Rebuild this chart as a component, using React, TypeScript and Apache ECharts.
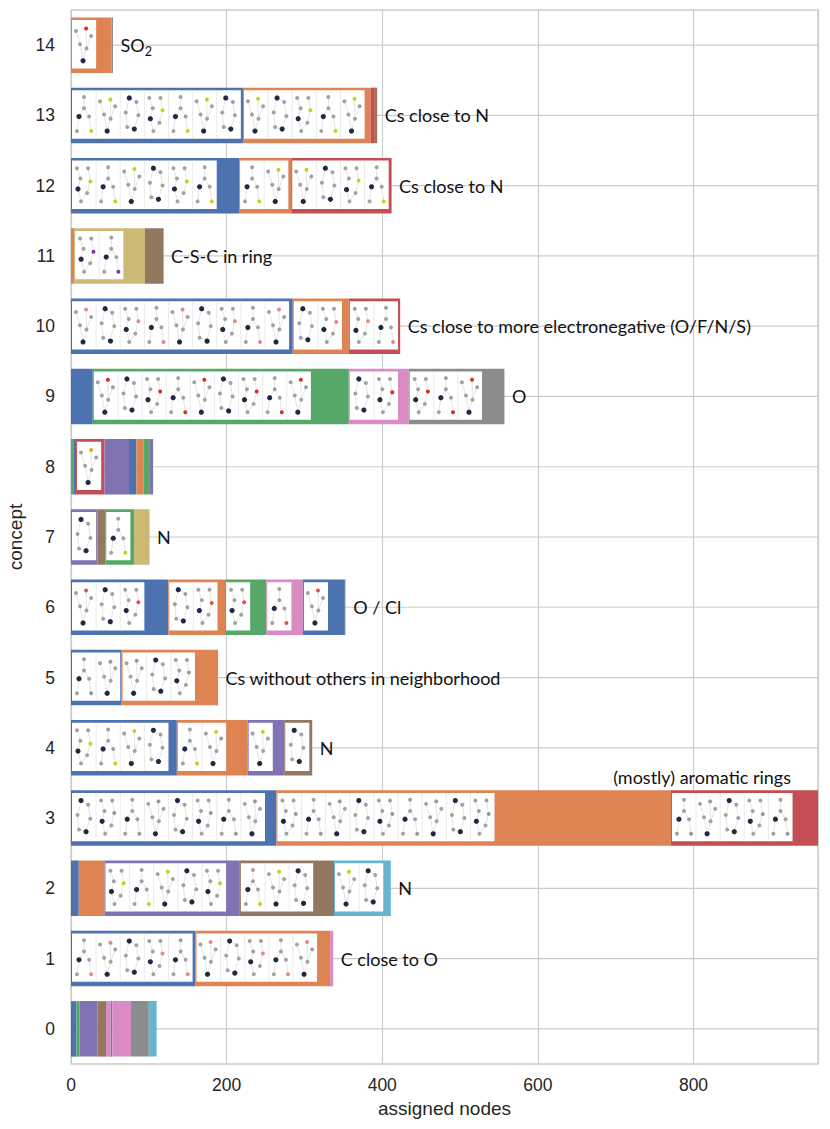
import React, { useEffect, useRef } from "react";
import * as echarts from "echarts";

// ---------- data ----------
const CONCEPTS = ["0", "1", "2", "3", "4", "5", "6", "7", "8", "9", "10", "11", "12", "13", "14"];

// seaborn "deep" palette
const PALETTE = ["#4C72B0", "#DD8452", "#55A868", "#C44E52", "#8172B3", "#937860", "#DA8BC3", "#8C8C8C", "#CCB974", "#64B5CD"];

// palette index of each stacked segment, per concept
const SEG_COLORS: number[][] = [
  [0, 2, 4, 5, 6, 4, 6, 7, 9],
  [0, 1, 6],
  [0, 1, 4, 5, 9],
  [0, 1, 3],
  [0, 1, 4, 5],
  [0, 1],
  [0, 1, 2, 6, 0, 8],
  [4, 5, 2, 8],
  [2, 0, 3, 4, 0, 1, 2, 4],
  [0, 2, 6, 7],
  [0, 1, 3],
  [1, 8, 5],
  [0, 1, 3],
  [0, 1, 3, 5],
  [1, 7],
];

// assigned nodes of each segment, per concept
const SEG_VALUES: number[][] = [
  [7, 4, 23, 11, 6, 2, 24, 23, 10],
  [160, 173, 4],
  [10, 33, 174, 121, 73],
  [264, 507, 189],
  [136, 91, 47, 36],
  [65, 124],
  [125, 73, 53, 47, 54, 1],
  [34, 10, 37, 20],
  [3, 3.5, 36.5, 31.5, 9.5, 9.5, 7, 5],
  [28, 329, 77, 123],
  [285, 72, 66],
  [4, 91, 24],
  [216, 67, 129],
  [221, 164, 5.5, 3],
  [52, 2],
];

// number of example-molecule panels shown inside each segment (0 = none)
const SEG_PANELS: number[][] = [
  [0, 0, 0, 0, 0, 0, 0, 0, 0],
  [5, 5, 0],
  [0, 0, 5, 3, 2],
  [8, 9, 5],
  [4, 2, 1, 1],
  [2, 3],
  [3, 2, 1, 1, 1, 0],
  [1, 0, 1, 0],
  [0, 0, 1, 0, 0, 0, 0, 0],
  [0, 9, 2, 3],
  [9, 2, 2],
  [0, 2, 0],
  [6, 2, 4],
  [7, 5, 0, 0],
  [1, 0],
];

const CONCEPT_LABELS = [
  "",
  "C close to O",
  "N",
  "(mostly) aromatic rings",
  "N",
  "Cs without others in neighborhood",
  "O / Cl",
  "N",
  "",
  "O",
  "Cs close to more electronegative (O/F/N/S)",
  "C-S-C in ring",
  "Cs close to N",
  "Cs close to N",
  "SO{sub|2}",
];
const LABEL_ABOVE = [3];

// element colour highlighted in the example molecules of each concept
const ACCENT = ["#999999", "#e58a86", "#c5d21c", "#999999", "#c5d21c", "#999999", "#e0524e", "#c5d21c", "#f0a020", "#e02a20", "#e58a86", "#8a2fa8", "#c5d21c", "#c5d21c", "#e02a20"];

const X_MAX = 960;
const X_INTERVAL = 200;
const PANEL_UNITS = 31; // width of one molecule panel, in axis units
const BAR_GAP = 0.21;

// decorative molecule glyphs: [x, y, kind] in panel-relative units; kind 0 grey, 1 dark, 2 accent
const GLYPHS: { nodes: number[][]; edges: number[][] }[] = [
  {
    nodes: [[0.15, 0.1, 0], [0.32, 0.35, 0], [0.2, 0.6, 1], [0.35, 0.9, 0], [0.65, 0.7, 0], [0.8, 0.4, 2], [0.7, 0.1, 0]],
    edges: [[0, 1], [1, 2], [2, 3], [3, 4], [4, 5], [5, 6]],
  },
  {
    nodes: [[0.5, 0.08, 0], [0.5, 0.35, 0], [0.25, 0.55, 1], [0.75, 0.55, 0], [0.15, 0.9, 0], [0.85, 0.9, 2]],
    edges: [[0, 1], [1, 2], [1, 3], [2, 4], [3, 5]],
  },
  {
    nodes: [[0.1, 0.18, 0], [0.3, 0.5, 0], [0.45, 0.9, 1], [0.62, 0.6, 0], [0.85, 0.3, 0], [0.6, 0.12, 2]],
    edges: [[0, 1], [1, 2], [2, 3], [3, 4], [3, 5]],
  },
  {
    nodes: [[0.35, 0.1, 1], [0.7, 0.2, 0], [0.8, 0.52, 0], [0.6, 0.85, 1], [0.25, 0.8, 0], [0.18, 0.45, 0]],
    edges: [[0, 1], [1, 2], [2, 3], [3, 4], [4, 5], [5, 0]],
  },
];

// ---------- option ----------
function buildOption() {
  const maxSegs = Math.max(...SEG_VALUES.map((s) => s.length));
  const barSeries: any[] = [];
  for (let k = 0; k < maxSegs; k++) {
    barSeries.push({
      type: "bar",
      stack: "total",
      barCategoryGap: BAR_GAP * 100 + "%",
      silent: true,
      z: 2,
      data: CONCEPTS.map((_, c) =>
        SEG_VALUES[c][k] != null
          ? { value: SEG_VALUES[c][k], itemStyle: { color: PALETTE[SEG_COLORS[c][k]] } }
          : "-"
      ),
    });
  }

  const insetData: number[][] = [];
  const totals: number[] = [];
  CONCEPTS.forEach((_, c) => {
    let acc = 0;
    SEG_VALUES[c].forEach((v, k) => {
      if (SEG_PANELS[c][k] > 0) insetData.push([acc, c, SEG_PANELS[c][k], k]);
      acc += v;
    });
    totals.push(acc);
  });

  const gridLineSeries = {
    type: "custom",
    silent: true,
    z: 1,
    data: CONCEPTS.map((_, c) => [0, c]),
    renderItem: (params: any, api: any) => {
      const c = api.value(1);
      const a = api.coord([0, c]);
      const b = api.coord([X_MAX, c]);
      return {
        type: "line",
        shape: { x1: a[0], y1: a[1], x2: b[0], y2: b[1] },
        style: { stroke: "#cccccc", lineWidth: 1.2 },
      };
    },
  };

  const insetSeries = {
    type: "custom",
    silent: true,
    z: 3,
    data: insetData,
    renderItem: (params: any, api: any) => {
      const start = api.value(0);
      const c = api.value(1);
      const n = api.value(2);
      const off = api.value(3);
      const a = api.coord([start, c]);
      const b = api.coord([start + n * PANEL_UNITS, c]);
      const band = api.size([0, 1])[1];
      const barH = band * (1 - BAR_GAP);
      const top = a[1] - barH / 2 + 2.7;
      const h = barH - 7.2;
      const x0 = a[0] + 1;
      const pw = (b[0] - a[0]) / n;
      const children: any[] = [
        { type: "rect", shape: { x: x0, y: top, width: pw * n, height: h }, style: { fill: "#ffffff" } },
      ];
      for (let i = 0; i < n; i++) {
        const px = x0 + i * pw;
        if (i > 0) {
          children.push({
            type: "line",
            shape: { x1: px, y1: top, x2: px, y2: top + h },
            style: { stroke: "#e6e6e6", lineWidth: 0.8 },
          });
        }
        const g = GLYPHS[(i + off + c) % GLYPHS.length];
        const ix = px + pw * 0.08;
        const iw = pw * 0.84;
        const iy = top + h * 0.07;
        const ih = h * 0.86;
        const pos = g.nodes.map((nd) => [ix + nd[0] * iw, iy + nd[1] * ih]);
        g.edges.forEach((e) => {
          children.push({
            type: "line",
            shape: { x1: pos[e[0]][0], y1: pos[e[0]][1], x2: pos[e[1]][0], y2: pos[e[1]][1] },
            style: { stroke: "#d2d2d2", lineWidth: 0.6 },
          });
        });
        g.nodes.forEach((nd, j) => {
          const kind = nd[2];
          children.push({
            type: "circle",
            shape: { cx: pos[j][0], cy: pos[j][1], r: kind === 1 ? 2.6 : 2.0 },
            style: { fill: kind === 1 ? "#1e2a44" : kind === 2 ? ACCENT[c] : "#a2a2a2" },
          });
        });
      }
      return { type: "group", children };
    },
  };

  const labelSeries = {
    type: "custom",
    silent: true,
    z: 4,
    data: CONCEPTS.map((_, c) => [totals[c], c]).filter((d) => CONCEPT_LABELS[d[1]] !== ""),
    renderItem: (params: any, api: any) => {
      const total = api.value(0);
      const c = api.value(1);
      const p = api.coord([total, c]);
      const band = api.size([0, 1])[1];
      const above = LABEL_ABOVE.indexOf(c) >= 0;
      return {
        type: "text",
        x: above ? p[0] - 27 : p[0] + 7.5,
        y: above ? p[1] - band * 0.59 : p[1],
        style: {
          text: CONCEPT_LABELS[c],
          fill: "#111111",
          fontSize: 18,
          fontFamily: "Lato",
          align: above ? "right" : "left",
          verticalAlign: "middle",
          lineHeight: 26,
          rich: {
            sub: { fontSize: 12.5, fontFamily: "Lato", fill: "#111111", lineHeight: 12, verticalAlign: "bottom" },
          },
        },
      };
    },
  };

  const axisFont = "Liberation Sans, Arial, sans-serif";

  return {
    animation: false,
    backgroundColor: "#ffffff",
    grid: {
      left: 71,
      right: 12,
      top: 10,
      bottom: 65,
      containLabel: false,
      outerBoundsMode: "none",
      show: true,
      borderColor: "#cccccc",
      borderWidth: 1.3,
      backgroundColor: "#ffffff",
    },
    xAxis: {
      type: "value",
      min: 0,
      max: X_MAX,
      interval: X_INTERVAL,
      axisLine: { show: false },
      axisTick: { show: false },
      axisLabel: { fontSize: 17.5, color: "#262626", fontFamily: axisFont, margin: 12, showMaxLabel: false },
      splitLine: { show: true, lineStyle: { color: "#cccccc", width: 1.2 } },
      name: "assigned nodes",
      nameLocation: "middle",
      nameGap: 31,
      nameTextStyle: { fontSize: 19, color: "#262626", fontFamily: axisFont },
    },
    yAxis: {
      type: "category",
      data: CONCEPTS,
      axisLine: { show: false },
      axisTick: { show: false },
      splitLine: { show: false },
      axisLabel: { fontSize: 17.5, color: "#262626", fontFamily: axisFont, margin: 16 },
      name: "concept",
      nameLocation: "middle",
      nameRotate: 90,
      nameGap: 35,
      nameTextStyle: { fontSize: 19, color: "#262626", fontFamily: axisFont },
    },
    series: [gridLineSeries, ...barSeries, insetSeries, labelSeries],
  };
}

export default function App() {
  const ref = useRef<HTMLDivElement>(null);
  useEffect(() => {
    const chart = echarts.init(ref.current!, null, { renderer: "svg" });
    chart.setOption(buildOption() as any);
    return () => chart.dispose();
  }, []);
  return (
    <div
      ref={ref}
      style={{ position: "fixed", left: 0, top: 0, width: 830, height: 1129, background: "#ffffff" }}
    />
  );
}
